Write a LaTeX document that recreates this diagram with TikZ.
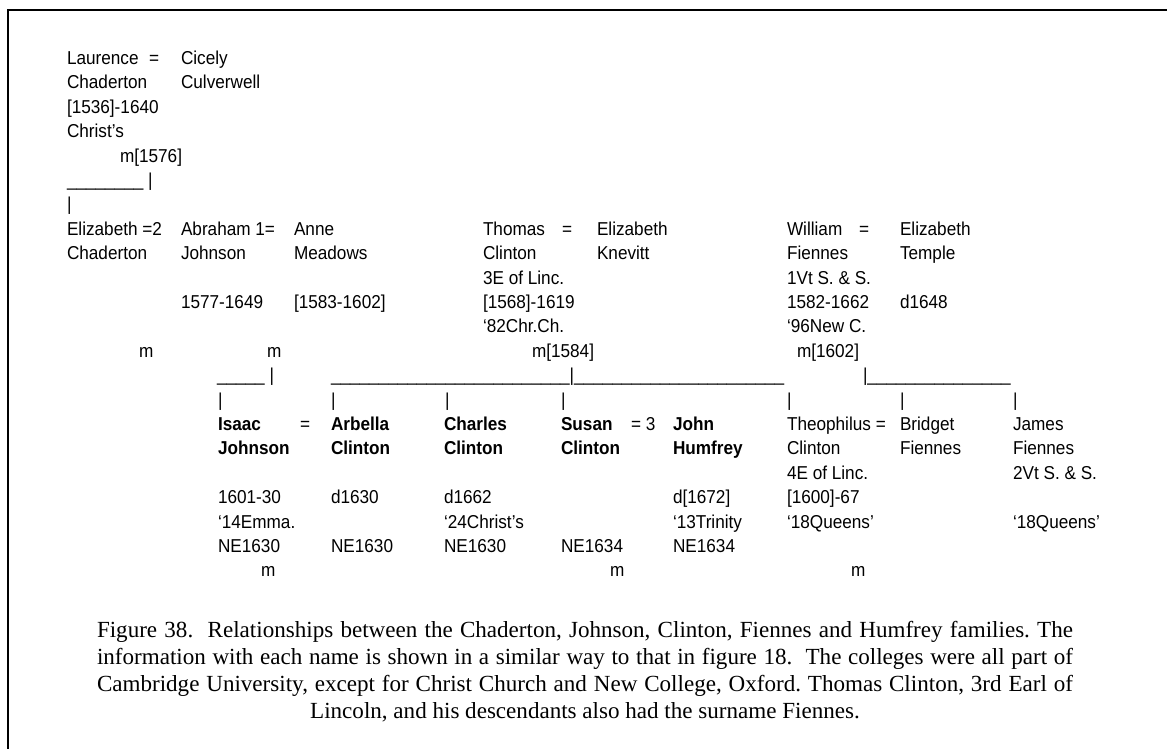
\documentclass[tikz,border=0pt]{standalone}
\usepackage{fontspec}
\setmainfont{Liberation Serif}
\newfontfamily\treefont{Liberation Sans}[FakeStretch=0.92]
\frenchspacing
\begin{document}
\begin{tikzpicture}[x=0.75pt,y=-0.75pt,
  tx/.style={anchor=base west, inner sep=0pt, outer sep=0pt,
    font=\treefont\fontsize{14pt}{18pt}\selectfont},
  bx/.style={tx, font=\treefont\fontsize{14pt}{18pt}\selectfont\bfseries},
  captext/.style={anchor=base, inner sep=0pt, outer sep=0pt,
    font=\fontsize{17.3pt}{20pt}\selectfont},
  frame/.style={line width=1.5pt, line join=miter}]
\useasboundingbox (0,0) rectangle (1167,749);
\fill[white] (0,0) rectangle (1167,749);
\draw[frame] (8,749) -- (8,10) -- (1167,10);

% Chaderton / Culverwell
\node[tx] (laur1) at (67,64.5) {Laurence};
\node[tx] (laureq) at (149,64.5) {=};
\node[tx] (cic1) at (181,64.5) {Cicely};
\node[tx] (laur2) at (67,88.9) {Chaderton};
\node[tx] (cic2) at (181,88.9) {Culverwell};
\node[tx] (laur3) at (67,113.3) {[1536]-1640};
\node[tx] (laur4) at (67,137.7) {Christ’s};
\node[tx] (m1576) at (120,162.1) {m[1576]};
\node[tx] (ln1) at (67,186.5) {\_\_\_\_\_\_\_\_ |};
\node[tx] (ln2) at (67,210.9) {|};

% second generation
\node[tx] (eliz1) at (67,235.3) {Elizabeth =2};
\node[tx] (abr1) at (181,235.3) {Abraham 1=};
\node[tx] (anne1) at (294,235.3) {Anne};
\node[tx] (thom1) at (483,235.3) {Thomas};
\node[tx] (thomeq) at (562,235.3) {=};
\node[tx] (ek1) at (597,235.3) {Elizabeth};
\node[tx] (wil1) at (787,235.3) {William};
\node[tx] (wileq) at (859,235.3) {=};
\node[tx] (et1) at (900,235.3) {Elizabeth};

\node[tx] (eliz2) at (67,259.7) {Chaderton};
\node[tx] (abr2) at (181,259.7) {Johnson};
\node[tx] (anne2) at (294,259.7) {Meadows};
\node[tx] (thom2) at (483,259.7) {Clinton};
\node[tx] (ek2) at (597,259.7) {Knevitt};
\node[tx] (wil2) at (787,259.7) {Fiennes};
\node[tx] (et2) at (900,259.7) {Temple};

\node[tx] (thom3) at (483,284.1) {3E of Linc.};
\node[tx] (wil3) at (787,284.1) {1Vt S. \& S.};

\node[tx] (abr4) at (181,308.5) {1577-1649};
\node[tx] (anne4) at (294,308.5) {[1583-1602]};
\node[tx] (thom4) at (483,308.5) {[1568]-1619};
\node[tx] (wil4) at (787,308.5) {1582-1662};
\node[tx] (et4) at (900,308.5) {d1648};

\node[tx] (thom5) at (483,332.9) {‘82Chr.Ch.};
\node[tx] (wil5) at (787,332.9) {‘96New C.};

\node[tx] (mA) at (139,357.3) {m};
\node[tx] (mB) at (267,357.3) {m};
\node[tx] (m1584) at (532,357.3) {m[1584]};
\node[tx] (m1602) at (797,357.3) {m[1602]};

% descent lines
\node[tx] (lnJ) at (217,381.7) {\_\_\_\_\_ |};
\node[tx] (lnC) at (331,381.7) {\_\_\_\_\_\_\_\_\_\_\_\_\_\_\_\_\_\_\_\_\_\_\_\_\_|\_\_\_\_\_\_\_\_\_\_\_\_\_\_\_\_\_\_\_\_\_\_};
\node[tx] (lnF) at (863,381.7) {|\_\_\_\_\_\_\_\_\_\_\_\_\_\_\_};

\node[tx] (pI) at (218,406.1) {|};
\node[tx] (pA) at (331,406.1) {|};
\node[tx] (pC) at (445,406.1) {|};
\node[tx] (pS) at (561,406.1) {|};
\node[tx] (pT) at (787,406.1) {|};
\node[tx] (pB) at (900,406.1) {|};
\node[tx] (pJ) at (1013,406.1) {|};

% third generation
\node[bx] (isa1) at (218,430.5) {Isaac};
\node[tx] (isaeq) at (300,430.5) {=};
\node[bx] (arb1) at (331,430.5) {Arbella};
\node[bx] (cha1) at (444,430.5) {Charles};
\node[bx] (sus1) at (561,430.5) {Susan};
\node[tx] (suseq) at (631,430.5) {= 3};
\node[bx] (joh1) at (673,430.5) {John};
\node[tx] (the1) at (787,430.5) {Theophilus =};
\node[tx] (bri1) at (900,430.5) {Bridget};
\node[tx] (jam1) at (1013,430.5) {James};

\node[bx] (isa2) at (218,454.9) {Johnson};
\node[bx] (arb2) at (331,454.9) {Clinton};
\node[bx] (cha2) at (444,454.9) {Clinton};
\node[bx] (sus2) at (561,454.9) {Clinton};
\node[bx] (joh2) at (673,454.9) {Humfrey};
\node[tx] (the2) at (787,454.9) {Clinton};
\node[tx] (bri2) at (900,454.9) {Fiennes};
\node[tx] (jam2) at (1013,454.9) {Fiennes};

\node[tx] (the3) at (787,479.3) {4E of Linc.};
\node[tx] (jam3) at (1013,479.3) {2Vt S. \& S.};

\node[tx] (isa4) at (218,503.7) {1601-30};
\node[tx] (arb4) at (331,503.7) {d1630};
\node[tx] (cha4) at (444,503.7) {d1662};
\node[tx] (joh4) at (673,503.7) {d[1672]};
\node[tx] (the4) at (787,503.7) {[1600]-67};

\node[tx] (isa5) at (218,528.1) {‘14Emma.};
\node[tx] (cha5) at (444,528.1) {‘24Christ’s};
\node[tx] (joh5) at (673,528.1) {‘13Trinity};
\node[tx] (the5) at (787,528.1) {‘18Queens’};
\node[tx] (jam5) at (1013,528.1) {‘18Queens’};

\node[tx] (isa6) at (218,552.5) {NE1630};
\node[tx] (arb6) at (331,552.5) {NE1630};
\node[tx] (cha6) at (444,552.5) {NE1630};
\node[tx] (sus6) at (561,552.5) {NE1634};
\node[tx] (joh6) at (673,552.5) {NE1634};

\node[tx] (mC) at (261,576.9) {m};
\node[tx] (mD) at (610,576.9) {m};
\node[tx] (mE) at (851,576.9) {m};

% caption: three justified lines and a centred last line
\node[captext] (cap1) at (585,637) {\makebox[732pt][s]{Figure 38.\ \ Relationships between the Chaderton, Johnson, Clinton, Fiennes and Humfrey families. The}};
\node[captext] (cap2) at (585,664) {\makebox[732pt][s]{information with each name is shown in a similar way to that in figure 18.\ \ The colleges were all part of}};
\node[captext] (cap3) at (585,691) {\makebox[732pt][s]{Cambridge University, except for Christ Church and New College, Oxford. Thomas Clinton, 3rd Earl of}};
\node[captext] (cap4) at (585,718) {Lincoln, and his descendants also had the surname Fiennes.};
\end{tikzpicture}
\end{document}
